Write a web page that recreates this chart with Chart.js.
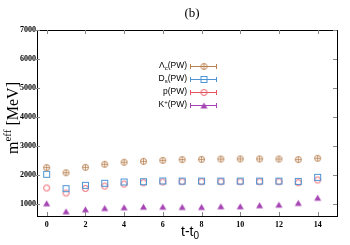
<!DOCTYPE html>
<html>
<head>
<meta charset="utf-8">
<script src="https://cdn.jsdelivr.net/npm/chart.js@4/dist/chart.umd.min.js"></script>
<style>
  html, body { margin: 0; padding: 0; background: #fff; }
  #wrap { width: 350px; height: 245px; position: relative; }
</style>
</head>
<body>
<div id="wrap"><canvas id="c" width="350" height="245" style="width:350px;height:245px"></canvas></div>
<script>
// data
var tValues = [0, 1, 2, 3, 4, 5, 6, 7, 8, 9, 10, 11, 12, 13, 14];
var lambdaC = [2265, 2090, 2275, 2380, 2450, 2480, 2515, 2540, 2550, 2560, 2565, 2565, 2560, 2540, 2585];
var dS      = [2035, 1540, 1655, 1725, 1770, 1780, 1805, 1800, 1800, 1800, 1800, 1800, 1800, 1790, 1930];
var proton  = [1565, 1390, 1550, 1630, 1700, 1745, 1770, 1780, 1780, 1780, 1780, 1780, 1780, 1745, 1840];
var kaon    = [1037, 760, 830, 875, 900, 920, 920, 910, 910, 935, 935, 970, 990, 1050, 1230];
var xTicks = [0, 2, 4, 6, 8, 10, 12, 14];
var yTicks = [1000, 2000, 3000, 4000, 5000, 6000, 7000];
// legend labels as [text, mode] pieces
var legendLabels = [
  [["Λ", ""], ["c", "sub"], ["(PW)", ""]],
  [["D", ""], ["s", "sub"], ["(PW)", ""]],
  [["p(PW)", ""]],
  [["K", ""], ["+", "sup"], ["(PW)", ""]]
];

var colors = ["#b98050", "#4d94d4", "#e8555f", "#a644b4"];

// marker images, 9x9
function marker(kind, color) {
  var cv = document.createElement("canvas");
  cv.width = 9; cv.height = 9;
  var g = cv.getContext("2d");
  g.strokeStyle = color; g.fillStyle = color; g.lineWidth = 1;
  if (kind == "cplus") {
    g.beginPath(); g.arc(4.5, 4.5, 3, 0, Math.PI * 2); g.stroke();
    g.lineWidth = 0.8;
    g.beginPath(); g.moveTo(4.5, 1.5); g.lineTo(4.5, 7.5); g.moveTo(1.5, 4.5); g.lineTo(7.5, 4.5); g.stroke();
  } else if (kind == "square") {
    g.strokeRect(1.5, 1.5, 6, 6);
  } else if (kind == "circle") {
    g.beginPath(); g.arc(4.5, 4.5, 3, 0, Math.PI * 2); g.stroke();
  } else {
    g.beginPath(); g.moveTo(4.5, 1.5); g.lineTo(8, 7.5); g.lineTo(1, 7.5); g.closePath(); g.fill();
  }
  return cv;
}
var markers = [marker("cplus", colors[0]), marker("square", colors[1]), marker("circle", colors[2]), marker("tri", colors[3])];

function pts(arr) {
  return tValues.map(function(t, i) { return { x: t, y: arr[i] }; });
}

function drawRich(ctx, parts, x, y, size, family, align) {
  var w = 0, i;
  var fonts = parts.map(function(p) {
    return (p[1] ? Math.round(size * 0.7) : size) + "px " + family;
  });
  for (i = 0; i < parts.length; i++) { ctx.font = fonts[i]; w += ctx.measureText(parts[i][0]).width; }
  var cx = align == "right" ? x - w : (align == "center" ? x - w / 2 : x);
  ctx.textBaseline = "middle"; ctx.textAlign = "left";
  for (i = 0; i < parts.length; i++) {
    ctx.font = fonts[i];
    var dy = parts[i][1] == "sub" ? size * 0.3 : (parts[i][1] == "sup" ? -size * 0.35 : 0);
    ctx.fillText(parts[i][0], cx, y + dy);
    cx += ctx.measureText(parts[i][0]).width;
  }
}

var framePlugin = {
  id: "frame",
  afterDraw: function(chart) {
    var ctx = chart.ctx, a = chart.chartArea;
    var xs = chart.scales.x, ys = chart.scales.y;
    ctx.save();
    ctx.strokeStyle = "#000"; ctx.lineWidth = 1;
    ctx.strokeRect(Math.round(a.left) + 0.5, Math.round(a.top) + 0.5, Math.round(a.right - a.left), Math.round(a.bottom - a.top));
    ctx.strokeStyle = "#888";
    ctx.beginPath();
    xTicks.forEach(function(v) {
      var px = Math.round(xs.getPixelForValue(v)) + 0.5;
      ctx.moveTo(px, a.top); ctx.lineTo(px, a.top + 4);
      ctx.moveTo(px, a.bottom); ctx.lineTo(px, a.bottom - 4);
    });
    yTicks.forEach(function(v) {
      var py = Math.round(ys.getPixelForValue(v)) + 0.5;
      ctx.moveTo(a.left - 3, py); ctx.lineTo(a.left + 3, py);
      ctx.moveTo(a.right, py); ctx.lineTo(a.right - 4, py);
    });
    ctx.stroke();

    // titles
    ctx.fillStyle = "#000";
    drawRich(ctx, [["(b)", ""]], 192, 14, 13, "'Liberation Serif', serif", "center");
    drawRich(ctx, [["t-t", ""], ["0", "sub"]], 190, 232, 14, "'Liberation Sans', sans-serif", "center");
    ctx.save();
    ctx.translate(14, 118); ctx.rotate(-Math.PI / 2);
    drawRich(ctx, [["m", ""], ["eff", "sup"], [" [MeV]", ""]], 0, 0, 16, "'Liberation Serif', serif", "center");
    ctx.restore();

    // legend
    var lx0 = 190, lx1 = 217, ly = 66;
    legendLabels.forEach(function(lab, i) {
      var y = ly + i * 13;
      ctx.fillStyle = "#000";
      drawRich(ctx, lab, 187, y, 8.5, "'Liberation Sans', sans-serif", "right");
      ctx.strokeStyle = colors[i]; ctx.lineWidth = 1;
      ctx.beginPath();
      ctx.moveTo(lx0, y + 0.5); ctx.lineTo(lx1, y + 0.5);
      ctx.moveTo(lx0 + 0.5, y - 2); ctx.lineTo(lx0 + 0.5, y + 3);
      ctx.moveTo(lx1 - 0.5, y - 2); ctx.lineTo(lx1 - 0.5, y + 3);
      ctx.stroke();
      ctx.drawImage(markers[i], 204 - 4.5, y - 4);
    });
    ctx.restore();
  }
};

var tickFont = { family: "'Liberation Serif', serif", size: 8, weight: "bold" };

new Chart(document.getElementById("c"), {
  type: "scatter",
  data: {
    datasets: [lambdaC, dS, proton, kaon].map(function(arr, i) {
      return {
        data: pts(arr),
        pointStyle: markers[i],
        pointRadius: 4,
        borderColor: colors[i],
        backgroundColor: colors[i]
      };
    })
  },
  options: {
    responsive: false,
    animation: false,
    devicePixelRatio: 1,
    layout: { padding: { left: 0, right: 13, top: 30, bottom: 0 } },
    plugins: { legend: { display: false }, tooltip: { enabled: false } },
    scales: {
      x: {
        type: "linear", min: -0.5, max: 15,
        grid: { display: false, drawTicks: false },
        border: { display: false },
        afterBuildTicks: function(s) { s.ticks = xTicks.map(function(v) { return { value: v }; }); },
        afterFit: function(s) { s.height = 29; },
        ticks: { font: tickFont, color: "#000", padding: 4, maxRotation: 0, callback: function(v) { return String(v); } }
      },
      y: {
        min: 600, max: 7000,
        grid: { display: false, drawTicks: false },
        border: { display: false },
        afterBuildTicks: function(s) { s.ticks = yTicks.map(function(v) { return { value: v }; }); },
        afterFit: function(s) { s.width = 37; },
        ticks: { font: tickFont, color: "#000", padding: 1, callback: function(v) { return String(v); } }
      }
    }
  },
  plugins: [framePlugin]
});
</script>
</body>
</html>
